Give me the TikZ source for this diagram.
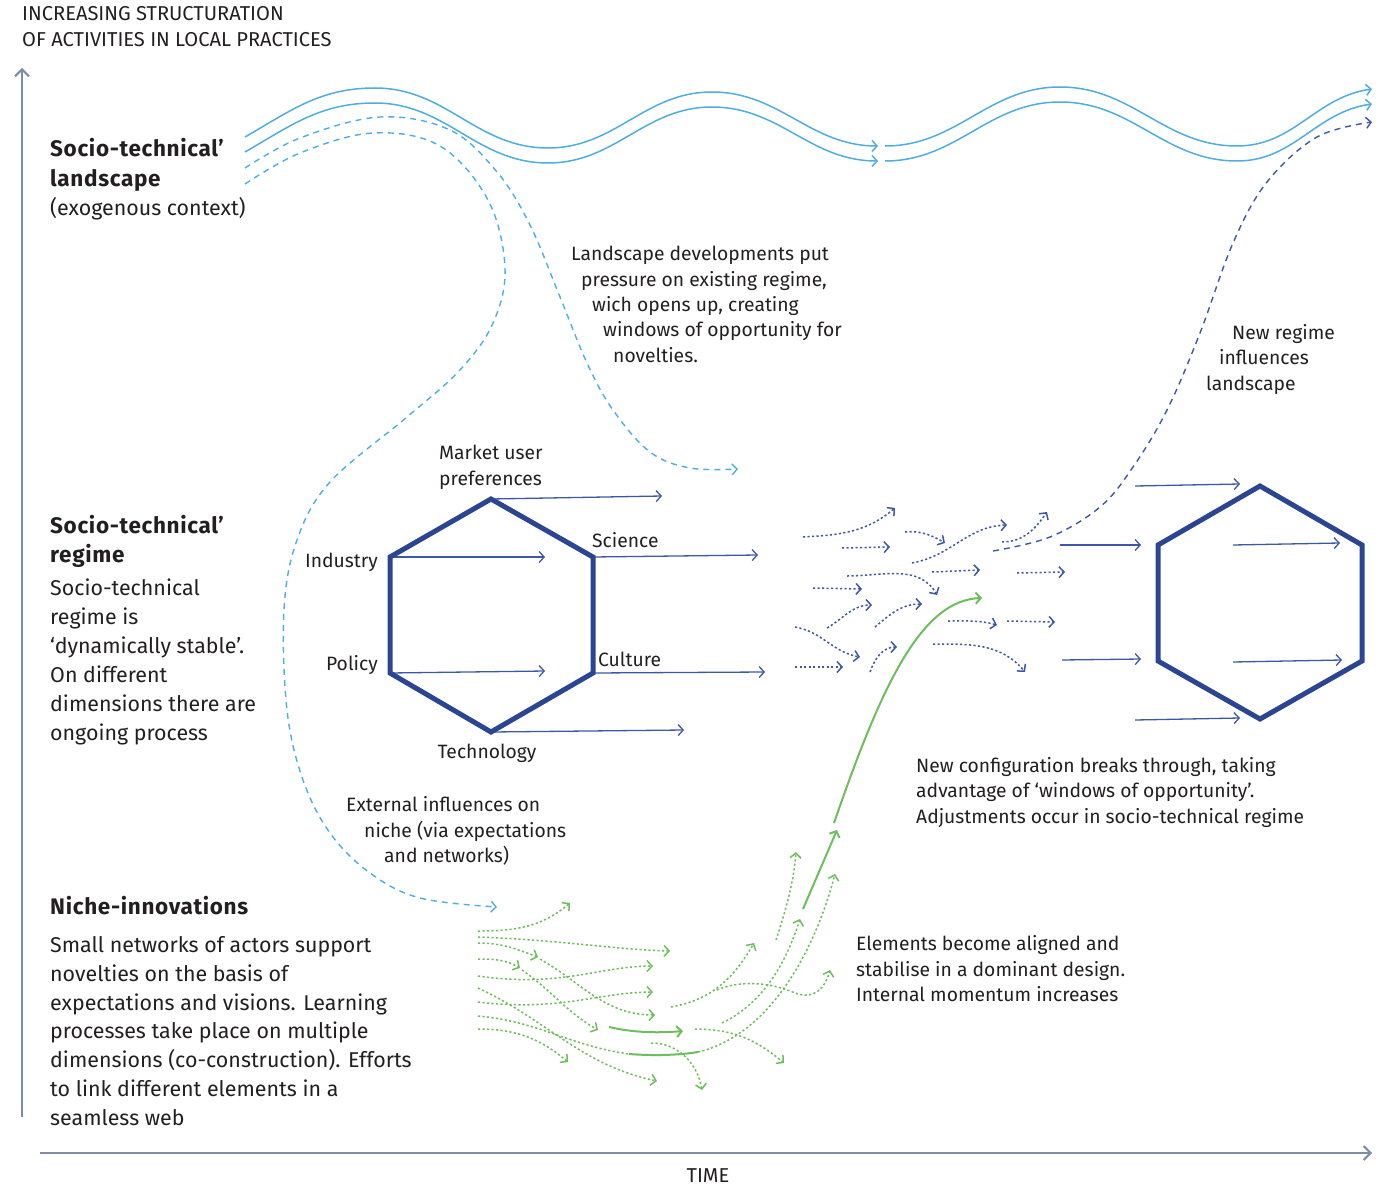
\documentclass[tikz,border=0pt]{standalone}
\usepackage{fontspec}
\setmainfont{Fira Sans}
\usetikzlibrary{arrows.meta}
\definecolor{lblue}{HTML}{4EAEE2}
\definecolor{hblue}{HTML}{2B4593}
\definecolor{tblue}{HTML}{3D58A6}
\definecolor{grn}{HTML}{6DBE5C}
\definecolor{axc}{HTML}{7F8CA6}
\definecolor{txt}{HTML}{231F20}
\begin{document}
\begin{tikzpicture}[x=1pt,y=-1pt,
  big/.style={font=\fontsize{21.4}{26}\selectfont, inner sep=0pt, anchor=base west, text=txt},
  bigb/.style={font=\fontsize{22.5}{26}\selectfont\bfseries\addfontfeature{LetterSpace=3}, inner sep=0pt, anchor=base west, text=txt},
  sml/.style={font=\fontsize{19.3}{23}\selectfont, inner sep=0pt, anchor=base west, text=txt},
  caps/.style={font=\fontsize{20.1}{23}\selectfont, inner sep=0pt, anchor=base west, text=txt},
  barb/.style={-{Straight Barb[length=5pt,width=11pt]}},
  axbarb/.style={-{Straight Barb[length=7pt,width=14pt]}},
  dotl/.style={line width=1.5pt, dash pattern=on 2.2pt off 2.3pt},
  dashl/.style={line width=1.4pt, dash pattern=on 6pt off 5pt},
  wave/.style={draw=lblue, line width=1.5pt},
  hexs/.style={draw=hblue, line width=5pt, line join=miter},
  thin/.style={draw=tblue, line width=1.3pt, barb},
  bdot/.style={draw=tblue, dotl, barb},
  gdot/.style={draw=grn, dotl, barb},
  gsol/.style={draw=grn, line width=2pt, barb}
]
\useasboundingbox (0,0) rectangle (1394,1185);

% axes
\coordinate (ax0) at (22,1117);
\coordinate (ax1) at (22,68);
\coordinate (ah0) at (40,1153);
\coordinate (ah1) at (1372,1153);
\draw[axc, line width=2pt, axbarb] (ax0) -- (ax1);
\draw[axc, line width=2pt, axbarb] (ah0) -- (ah1);
\node[caps] (ytl1) at (22,21) {INCREASING STRUCTURATION};
\node[caps] (ytl2) at (22,47) {OF ACTIVITIES IN LOCAL PRACTICES};
\node[caps, anchor=base] (time) at (708,1182) {TIME};

% landscape waves
\draw[wave, barb] (245,137) to[out=30,in=180] (375,88) to[out=0,in=180] (548,148) to[out=0,in=180] (712,92) to[out=0,in=180] (878,146);
\draw[wave, barb] (245,152) to[out=30,in=180] (375,103) to[out=0,in=180] (548,163) to[out=0,in=180] (712,107) to[out=0,in=180] (878,161);
\draw[wave, barb] (885,146) to[out=0,in=180] (1060,87) to[out=0,in=180] (1237,146) to[out=0,in=188] (1372,89);
\draw[wave, barb] (885,161) to[out=0,in=180] (1060,102) to[out=0,in=180] (1237,161) to[out=0,in=188] (1372,104);

% light blue dashed influences
\coordinate (ldA) at (738,469);
\coordinate (ldB) at (497,907);
\draw[lblue, dashl, barb] plot[smooth, tension=0.6] coordinates {(245,168) (300,138) (380,117) (450,130) (497,172) (530,225) (560,297) (587,363) (613,410) (650,452) (690,468) (738,469)};
\draw[lblue, dashl, barb] plot[smooth, tension=0.6] coordinates {(245,184) (300,153) (373,133) (440,146) (488,200) (505,268) (493,323) (460,370) (407,417) (330,482) (297,540) (284,610) (287,710) (303,780) (330,833) (370,873) (420,898) (497,907)};

% dark blue dashed
\draw[tblue, dashl, barb] plot[smooth, tension=0.6] coordinates {(993,551) (1050,537) (1100,507) (1133,467) (1167,410) (1200,333) (1233,243) (1267,182) (1317,137) (1372,122)};

% left hexagon
\coordinate (h1t) at (491,499);
\coordinate (h1ur) at (593,557);
\coordinate (h1lr) at (593,673);
\coordinate (h1b) at (491,732);
\coordinate (h1ll) at (390,673);
\coordinate (h1ul) at (390,557);
\coordinate (e1) at (662,496);
\coordinate (e2) at (545,557);
\coordinate (e3) at (758,555);
\coordinate (e4) at (545,671);
\coordinate (e5) at (765,672);
\coordinate (e6) at (684,730);
\draw[thin] (h1t) -- (e1);
\draw[thin] (h1ul) -- (e2);
\draw[thin] (h1ur) -- (e3);
\draw[thin] (h1ll) -- (e4);
\draw[thin] (h1lr) -- (e5);
\draw[thin] (h1b) -- (e6);
\draw[hexs] (h1t) -- (h1ur) -- (h1lr) -- (h1b) -- (h1ll) -- (h1ul) -- cycle;

\node[sml] (mk1) at (439,459) {Market user};
\node[sml] (mk2) at (439,485) {preferences};
\node[sml, anchor=base east] (ind) at (378,567) {Industry};
\node[sml, anchor=base east] (pol) at (378,670) {Policy};
\node[sml] (sci) at (592,547) {Science};
\node[sml] (cul) at (598,666) {Culture};
\node[sml, anchor=base] (tec) at (487,758) {Technology};

% right hexagon
\coordinate (h2t) at (1260,486);
\coordinate (h2ur) at (1362,545);
\coordinate (h2lr) at (1362,661);
\coordinate (h2b) at (1260,719);
\coordinate (h2ll) at (1158,661);
\coordinate (h2ul) at (1158,545);
\coordinate (r1s) at (1135,486); \coordinate (r1e) at (1240,484);
\coordinate (r2s) at (1060,545); \coordinate (r2e) at (1141,545);
\coordinate (r3s) at (1062,660); \coordinate (r3e) at (1141,659);
\coordinate (r4s) at (1135,720); \coordinate (r4e) at (1240,718);
\coordinate (r5s) at (1233,545); \coordinate (r5e) at (1340,543);
\coordinate (r6s) at (1233,662); \coordinate (r6e) at (1342,660);
\draw[thin] (r1s) -- (r1e);
\draw[thin] (r2s) -- (r2e);
\draw[thin] (r3s) -- (r3e);
\draw[thin] (r4s) -- (r4e);
\draw[thin] (r5s) -- (r5e);
\draw[thin] (r6s) -- (r6e);
\draw[hexs] (h2t) -- (h2ur) -- (h2lr) -- (h2b) -- (h2ll) -- (h2ul) -- cycle;

% blue dotted swarm
\draw[bdot] (803,537) to[out=3,in=-140] (895,508);
\draw[bdot] (842,548) -- (890,547);
\draw[bdot] (905,532) to[out=5,in=150] (945,543);
\draw[bdot] (912,563) to[out=10,in=182] (1007,525);
\draw[bdot] (1002,542) to[out=0,in=-125] (1047,512);
\draw[bdot] (932,572) -- (980,570);
\draw[bdot] (1017,573) -- (1065,572);
\draw[bdot] (847,576) to[out=0,in=120] (937,595);
\draw[bdot] (813,588) -- (862,589);
\draw[bdot] (827,628) to[out=30,in=180] (872,605);
\draw[bdot] (875,627) to[out=40,in=180] (922,604);
\draw[bdot] (795,627) to[out=-10,in=170] (860,657);
\draw[bdot] (948,621) to[out=0,in=165] (997,625);
\draw[bdot] (1007,621) -- (1055,622);
\draw[bdot] (795,667) -- (843,667);
\draw[bdot] (870,672) to[out=70,in=180] (897,647);
\draw[bdot] (933,644) to[out=0,in=130] (1025,672);

% green niche swarm
\draw[gdot] (478,931) to[out=0,in=-140] (570,903);
\draw[gdot] (478,937) .. controls (560,940) and (620,950) .. (670,951);
\draw[gdot] (478,943) to[out=0,in=160] (538,957);
\draw[gdot] (540,959) to[out=-30,in=180] (655,1015);
\draw[gdot] (478,959) to[out=0,in=150] (520,968);
\draw[gdot] (522,970) to[out=-35,in=150] (598,1030);
\draw[gdot] (478,988) to[out=-25,in=168] (657,1081);
\draw[gdot] (478,976) .. controls (560,988) and (600,966) .. (653,966);
\draw[gdot] (478,1002) .. controls (560,1012) and (600,992) .. (653,992);
\draw[gdot] (478,1029) to[out=0,in=140] (568,1062);
\draw[grn, dotl] (478,1016) to[out=-5,in=172] (629,1054);
\draw[grn, line width=2pt] (629,1054) .. controls (655,1056) and (680,1055) .. (698,1052);
\draw[gdot] (698,1052) .. controls (770,1035) and (815,950) .. (835,874);
\draw[gsol] (609,1027) .. controls (635,1033) and (660,1033) .. (683,1031);
\draw[gdot] (695,1029) to[out=0,in=140] (784,1063);
\draw[gdot] (651,1043) to[out=0,in=100] (702,1090);
\draw[gdot] (671,1007) to[out=10,in=-120] (754,943);
\draw[gdot] (717,990) .. controls (740,980) and (770,982) .. (795,993) .. controls (815,1000) and (825,988) .. (830,970);
\draw[gdot] (722,1023) .. controls (770,1000) and (790,950) .. (800,919);
\draw[gdot] (776,940) .. controls (786,910) and (794,880) .. (796,852);
\coordinate (gs0) at (803,909);
\coordinate (gs1) at (837,830);
\coordinate (gs2) at (834,823);
\coordinate (gs3) at (982,598);
\draw[gsol] (gs0) -- (gs1);
\draw[gsol] (gs2) .. controls (880,690) and (920,600) .. (gs3);

% left column texts
\node[bigb] (l1) at (50,157) {Socio-technical’};
\node[bigb] (l2) at (50,186) {landscape};
\node[big] (l3) at (50,215) {(exogenous context)};

\node[bigb] (r1) at (50,533) {Socio-technical’};
\node[bigb] (r2) at (50,562) {regime};
\node[big] (r3) at (50,595) {Socio-technical};
\node[big] (r4) at (50,624) {regime is};
\node[big] (r5) at (50,653) {‘dynamically stable’.};
\node[big] (r6) at (50,682) {On different};
\node[big] (r7) at (50,711) {dimensions there are};
\node[big] (r8) at (50,740) {ongoing process};

\node[bigb] (n1) at (50,914) {Niche-innovations};
\node[big] (n2) at (50,952) {Small networks of actors support};
\node[big] (n3) at (50,981) {novelties on the basis of};
\node[big] (n4) at (50,1010) {expectations and visions. Learning};
\node[big] (n5) at (50,1038) {processes take place on multiple};
\node[big] (n6) at (50,1067) {dimensions (co-construction). Efforts};
\node[big] (n7) at (50,1096) {to link different elements in a};
\node[big] (n8) at (50,1125) {seamless web};

% annotations
\node[sml] (a1) at (571,260) {Landscape developments put};
\node[sml] (a2) at (581,286) {pressure on existing regime,};
\node[sml] (a3) at (592,311) {wich opens up, creating};
\node[sml] (a4) at (603,336) {windows of opportunity for};
\node[sml] (a5) at (613,362) {novelties.};

\node[sml] (b1) at (1232,339) {New regime};
\node[sml] (b2) at (1219,364) {influences};
\node[sml] (b3) at (1206,390) {landscape};

\node[sml] (c1) at (916,772) {New configuration breaks through, taking};
\node[sml] (c2) at (916,797) {advantage of ‘windows of opportunity’.};
\node[sml] (c3) at (916,823) {Adjustments occur in socio-technical regime};

\node[sml] (d1) at (346,811) {External influences on};
\node[sml] (d2) at (364,837) {niche (via expectations};
\node[sml] (d3) at (384,862) {and networks)};

\node[sml] (f1) at (856,950) {Elements become aligned and};
\node[sml] (f2) at (856,976) {stabilise in a dominant design.};
\node[sml] (f3) at (856,1001) {Internal momentum increases};
\end{tikzpicture}
\end{document}
